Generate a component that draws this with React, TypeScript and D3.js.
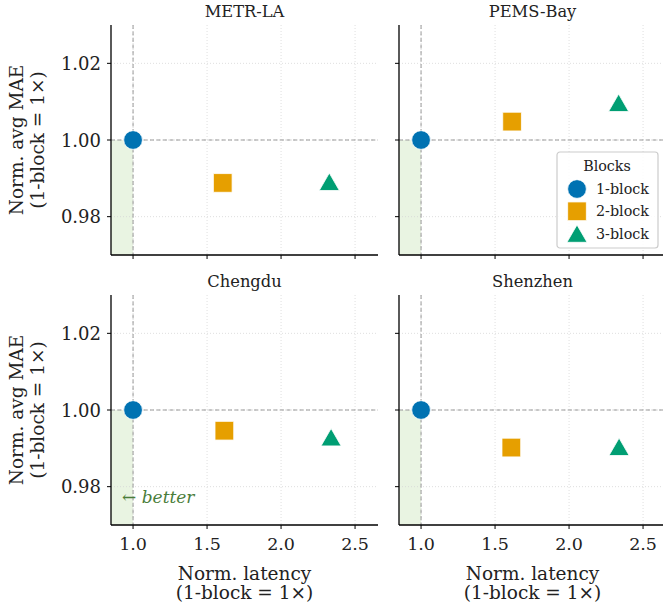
import React from "react";
import { scaleLinear, symbol, symbolCircle, symbolSquare, symbolTriangle } from "d3";

const datasets = ["METR-LA", "PEMS-Bay", "Chengdu", "Shenzhen"];
const blocks = ["1-block", "2-block", "3-block"];
const colors = ["#0072B2", "#E69F00", "#009E73"];
const shapes = [symbolCircle, symbolSquare, symbolTriangle];
// normalized latency per dataset, per block
const latency = [
  [1.0, 1.606, 2.326],
  [1.0, 1.615, 2.335],
  [1.0, 1.617, 2.338],
  [1.0, 1.61, 2.338],
];
// normalized avg MAE per dataset, per block
const mae = [
  [1.0, 0.9888, 0.9891],
  [1.0, 1.0048, 1.0097],
  [1.0, 0.9946, 0.9929],
  [1.0, 0.9902, 0.9904],
];
const xTicks = [1.0, 1.5, 2.0, 2.5];
const yTicks = [0.98, 1.0, 1.02];

const FONT = "'DejaVu Serif', serif";
const W = 663, H = 605;
const panelW = 267, panelH = 230;
const lefts = [111, 399];
const tops = [25, 295];
const TXT = "#222";
const sizes = [275, 350, 175];

function Panel({ idx }: { idx: number }) {
  const col = idx % 2, row = Math.floor(idx / 2);
  const x = scaleLinear().domain([0.851, 2.655]).range([0, panelW]);
  const y = scaleLinear().domain([0.97, 1.03]).range([panelH, 0]);
  const sym = (i: number) => symbol().type(shapes[i]).size(sizes[i])() as string;
  // triangle centroid sits below its box centre
  const triOff = Math.sqrt((sizes[2] * 4) / Math.sqrt(3)) * (Math.sqrt(3) / 2) / 6;

  return (
    <g transform={`translate(${lefts[col]},${tops[row]})`}>
      {/* better region */}
      <rect x={0} y={y(1)} width={x(1)} height={panelH - y(1)} fill="#e9f4e2" />
      {/* grid */}
      {xTicks.map((t) => (
        <line key={"gx" + t} x1={x(t)} x2={x(t)} y1={0} y2={panelH} stroke="#d5d5d5" strokeWidth={0.8} strokeDasharray="1,2" />
      ))}
      {yTicks.map((t) => (
        <line key={"gy" + t} x1={0} x2={panelW} y1={y(t)} y2={y(t)} stroke="#d5d5d5" strokeWidth={0.8} strokeDasharray="1,2" />
      ))}
      {/* reference lines */}
      <line x1={x(1)} x2={x(1)} y1={0} y2={panelH} stroke="#999" strokeWidth={1} strokeDasharray="4,2.5" />
      <line x1={0} x2={panelW} y1={y(1)} y2={y(1)} stroke="#999" strokeWidth={1} strokeDasharray="4,2.5" />
      {blocks.map((b, i) => (
        <path key={b} d={sym(i)}
          transform={`translate(${x(latency[idx][i])},${y(mae[idx][i]) + (i === 2 ? triOff : 0)})`}
          fill={colors[i]} stroke="#fff" strokeWidth={0.8} />
      ))}
      {/* axes */}
      <line x1={0} x2={panelW} y1={panelH} y2={panelH} stroke="#000" strokeWidth={1.3} />
      <line x1={0} x2={0} y1={0} y2={panelH} stroke="#000" strokeWidth={1.3} />
      {xTicks.map((t) => (
        <g key={"xt" + t} transform={`translate(${x(t)},${panelH})`}>
          <line y1={0} y2={4} stroke="#000" strokeWidth={1} />
          {row === 1 && (
            <text y={25} textAnchor="middle" fontFamily={FONT} fontSize={17.5} fill={TXT}>{t.toFixed(1)}</text>
          )}
        </g>
      ))}
      {yTicks.map((t) => (
        <g key={"yt" + t} transform={`translate(0,${y(t)})`}>
          <line x1={0} x2={-4} stroke="#000" strokeWidth={1} />
          {col === 0 && (
            <text x={-10} y={6.5} textAnchor="end" fontFamily={FONT} fontSize={18} fill={TXT}>{t.toFixed(2)}</text>
          )}
        </g>
      ))}
      <text x={panelW / 2} y={-8} textAnchor="middle" fontFamily={FONT} fontSize={16.3} fill={TXT}>{datasets[idx]}</text>
      {idx === 2 && (
        <text x={x(1) - 11} y={y(0.9765) + 3} fontFamily={FONT} fontSize={17} fontStyle="italic" fill="#4a7d3a">← better</text>
      )}
      {idx === 1 && (
        <g transform="translate(158,127)">
          <rect x={0} y={0} width={101} height={96} rx={3} fill="#fff" fillOpacity={0.85} stroke="#ccc" strokeWidth={1.2} />
          <text x={50} y={19} textAnchor="middle" fontFamily={FONT} fontSize={14.3} fill={TXT}>Blocks</text>
          {blocks.map((b, i) => (
            <g key={b} transform={`translate(20,${37 + i * 22.3})`}>
              <path d={sym(i)} transform={i === 2 ? `translate(0,${triOff})` : undefined} fill={colors[i]} stroke="#fff" strokeWidth={0.8} />
              <text x={19} y={5} fontFamily={FONT} fontSize={14.3} fill={TXT}>{b}</text>
            </g>
          ))}
        </g>
      )}
    </g>
  );
}

export default function App() {
  return (
    <svg width={W} height={H} style={{ position: "absolute", left: 0, top: 0, background: "#fff" }}>
      <rect width={W} height={H} fill="#fff" />
      {datasets.map((d, i) => (
        <Panel key={d} idx={i} />
      ))}
      {tops.map((t) => (
        <text key={"yl" + t} transform={`translate(0,${t + panelH / 2}) rotate(-90)`} textAnchor="middle"
          fontFamily={FONT} fontSize={18.5} fill={TXT}>
          <tspan x={0} y={23}>Norm. avg MAE</tspan>
          <tspan x={0} y={44}>(1-block = 1×)</tspan>
        </text>
      ))}
      {lefts.map((l) => (
        <text key={"xl" + l} textAnchor="middle" fontFamily={FONT} fontSize={18.5} fill={TXT}>
          <tspan x={l + panelW / 2} y={580}>Norm. latency</tspan>
          <tspan x={l + panelW / 2} y={599}>(1-block = 1×)</tspan>
        </text>
      ))}
    </svg>
  );
}
